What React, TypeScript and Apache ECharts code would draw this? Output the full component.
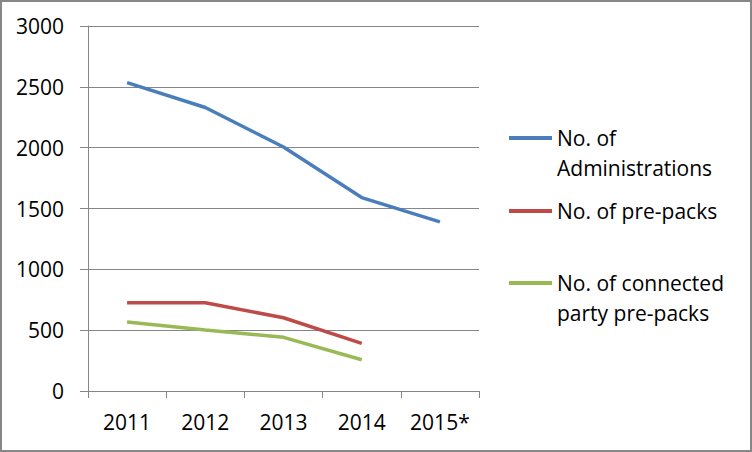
import React, { useEffect, useRef } from "react";
import * as echarts from "echarts";

const categories = ["2011", "2012", "2013", "2014", "2015*"];
const administrations = [2535, 2330, 2005, 1590, 1390];
const prePacks = [725, 725, 602, 392];
const connectedPrePacks = [567, 501, 441, 257];
const yTicks = [0, 500, 1000, 1500, 2000, 2500, 3000];

const nameAdmin = "No. of\nAdministrations";
const namePre = "No. of pre-packs";
const nameConn = "No. of connected\nparty pre-packs";

const FONT = "Open Sans";

export default function App() {
  const ref = useRef<HTMLDivElement>(null);
  useEffect(() => {
    document.body.style.margin = "0";
    const chart = echarts.init(ref.current!, null, { renderer: "svg" });
    const legendBase = {
      orient: "vertical",
      left: 509,
      padding: 0,
      itemWidth: 43,
      itemHeight: 4,
      icon: "rect",
      selectedMode: false,
    };
    const ts = { fontFamily: FONT, fontSize: 21, color: "#000", lineHeight: 30 };
    chart.setOption({
      animation: false,
      backgroundColor: "#ffffff",
      grid: { left: 88, right: 273, top: 26, bottom: 61 },
      xAxis: {
        type: "category",
        data: categories,
        boundaryGap: true,
        axisLine: { show: true, lineStyle: { color: "#868686", width: 1 } },
        axisTick: { show: true, length: 7, lineStyle: { color: "#868686" } },
        axisLabel: { color: "#000", fontFamily: FONT, fontSize: 21, margin: 20 },
        splitLine: { show: false },
      },
      yAxis: {
        type: "value",
        min: yTicks[0],
        max: yTicks[yTicks.length - 1],
        interval: 500,
        axisLine: { show: true, lineStyle: { color: "#868686", width: 1 } },
        axisTick: { show: true, length: 8, lineStyle: { color: "#868686" } },
        axisLabel: {
          color: "#000",
          fontFamily: FONT,
          fontSize: 21,
          margin: 24,
          formatter: (v: number) => String(v),
        },
        splitLine: { show: true, lineStyle: { color: "#868686", width: 1 } },
      },
      legend: [
        {
          ...legendBase,
          top: 93,
          data: [nameAdmin],
          formatter: (n: string) => " \n" + n,
          textStyle: ts,
        },
        {
          ...legendBase,
          top: 196,
          data: [namePre],
          textStyle: ts,
        },
        {
          ...legendBase,
          top: 238,
          data: [nameConn],
          formatter: (n: string) => " \n" + n,
          textStyle: ts,
        },
      ],
      series: [
        {
          name: nameAdmin,
          type: "line",
          data: administrations,
          symbol: "none",
          lineStyle: { color: "#4a7ebb", width: 3.5 },
          itemStyle: { color: "#4a7ebb" },
        },
        {
          name: namePre,
          type: "line",
          data: prePacks,
          symbol: "none",
          lineStyle: { color: "#be4b48", width: 3.5 },
          itemStyle: { color: "#be4b48" },
        },
        {
          name: nameConn,
          type: "line",
          data: connectedPrePacks,
          symbol: "none",
          lineStyle: { color: "#98b954", width: 3.5 },
          itemStyle: { color: "#98b954" },
        },
      ],
      graphic: [
        {
          type: "rect",
          shape: { x: 1, y: 1, width: 750, height: 450 },
          style: { fill: "none", stroke: "#878787", lineWidth: 2 },
          silent: true,
          z: 100,
        },
      ],
    });
    return () => chart.dispose();
  }, []);
  return (
    <div
      ref={ref}
      style={{ position: "absolute", left: 0, top: 0, width: 752, height: 452 }}
    />
  );
}
